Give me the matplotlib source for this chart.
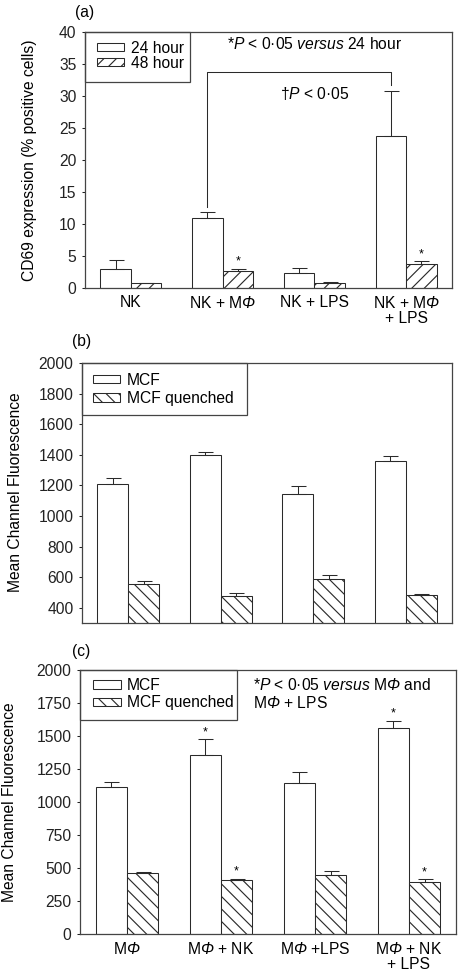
import matplotlib
matplotlib.use("Agg")
import matplotlib.pyplot as plt
from matplotlib.patches import Rectangle
import numpy as np

plt.rcParams["font.family"] = ["Liberation Sans", "DejaVu Sans"]
plt.rcParams["mathtext.fontset"] = "custom"
plt.rcParams["mathtext.rm"] = "Liberation Sans"
plt.rcParams["mathtext.it"] = "Liberation Sans:italic"
plt.rcParams["mathtext.sf"] = "Liberation Sans:italic"
plt.rcParams["hatch.linewidth"] = 0.55

PHI = r"M$\mathsf{\Phi}$"

# panel (a): CD69 expression
groups_a = ["NK", "NK + " + PHI, "NK + LPS", "NK + " + PHI + "\n+ LPS"]
a_24h = [2.9, 10.9, 2.4, 23.7]
a_24h_err = [1.4, 1.0, 0.7, 7.1]
a_48h = [0.8, 2.6, 0.8, 3.7]
a_48h_err = [0.05, 0.4, 0.15, 0.45]
a_48h_star = [False, True, False, True]

# panel (b): mean channel fluorescence
b_mcf = [1210, 1397, 1143, 1360]
b_mcf_err = [36, 24, 50, 35]
b_quenched = [557, 474, 590, 485]
b_quenched_err = [16, 24, 26, 7]

# panel (c): mean channel fluorescence
groups_c = [PHI, PHI + " + NK", PHI + " +LPS", PHI + " + NK\n+ LPS"]
c_mcf = [1114, 1356, 1141, 1558]
c_mcf_err = [35, 119, 86, 58]
c_mcf_star = [False, True, False, True]
c_quenched = [460, 412, 444, 396]
c_quenched_err = [12, 7, 31, 18]
c_quenched_star = [False, True, False, True]

FS = 7.5
EDGE = "#2a2a2a"
W = 1 / 3
DPI = 150


def style_axes(ax):
    for sp in ax.spines.values():
        sp.set_linewidth(0.6)
        sp.set_color("#444444")
    ax.tick_params(axis="y", direction="out", length=1.6, width=0.5,
                   pad=2.5, labelsize=FS, colors="#222222")
    ax.tick_params(axis="x", length=0, pad=3.5, labelsize=FS)
    ax.set_xlim(-0.5, 3.5)


def draw_pair(ax, v1, e1, v2, e2, hatch2):
    x = np.arange(len(v1))
    zeros = np.zeros(len(v1))
    b1 = ax.bar(x - W / 2, v1, W, color="white", edgecolor=EDGE, linewidth=0.5)
    b2 = ax.bar(x + W / 2, v2, W, color="white", edgecolor=EDGE, linewidth=0.5,
                hatch=hatch2)
    ax.errorbar(x - W / 2, v1, yerr=[zeros, e1], fmt="none", ecolor=EDGE,
                elinewidth=0.5, capsize=3.6, capthick=0.5)
    ax.errorbar(x + W / 2, v2, yerr=[zeros, e2], fmt="none", ecolor=EDGE,
                elinewidth=0.5, capsize=3.6, capthick=0.5)
    return x, b1, b2


def stars(ax, xs, vals, errs, flags):
    for xi, v, e, f in zip(xs, vals, errs, flags):
        if f:
            ax.annotate("*", (xi, v + e), xytext=(0, 3.5),
                        textcoords="offset points", ha="center", va="center",
                        fontsize=6)


def legend_box(ax, handles, labels, x0, ytop, box_w, box_h, spacing):
    ax.add_patch(Rectangle((0, 1 - box_h), box_w, box_h, transform=ax.transAxes,
                           fill=False, edgecolor="#444444", linewidth=0.6,
                           zorder=5, clip_on=False))
    ax.legend(handles, labels, loc="upper left", bbox_to_anchor=(x0, ytop),
              frameon=False, borderpad=0, borderaxespad=0, fontsize=FS,
              handlelength=1.75, handleheight=0.45, handletextpad=0.4,
              labelspacing=spacing)


fig = plt.figure(figsize=(458 / DPI, 976 / DPI), dpi=DPI)

# (a)
ax1 = fig.add_axes([0.1856, 0.7049, 0.8013, 0.2623])
x, b1, b2 = draw_pair(ax1, a_24h, a_24h_err, a_48h, a_48h_err, "////")
stars(ax1, x + W / 2, a_48h, a_48h_err, a_48h_star)
ax1.set_ylim(0, 40)
ax1.set_yticks(range(0, 41, 5))
ax1.set_xticks(x)
ax1.set_xticklabels(groups_a, linespacing=1.0)
style_axes(ax1)
ax1.plot([1 - W / 2, 1 - W / 2, 3 - W / 2, 3 - W / 2], [12.6, 33.75, 33.75, 31.7],
         color=EDGE, linewidth=0.5)
ax1.text(2.0, 30.4, r"†$\mathit{P}$ < 0·05", ha="center", va="center", fontsize=FS)
ax1.text(2.0, 38.2, r"*$\mathit{P}$ < 0·05 $\mathit{versus}$ 24 hour",
         ha="center", va="center", fontsize=FS)
legend_box(ax1, [b1, b2], ["24 hour", "48 hour"], 0.033, 0.966, 0.286, 0.195, 0.0)
fig.text(0.164, 0.9867, "(a)", ha="left", va="center", fontsize=FS)
fig.text(0.0655, 0.836, "CD69 expression (% positive cells)", rotation=90,
         ha="center", va="center", fontsize=FS)

# (b)
ax2 = fig.add_axes([0.179, 0.3617, 0.8079, 0.2664])
x, b1, b2 = draw_pair(ax2, b_mcf, b_mcf_err, b_quenched, b_quenched_err, "\\\\\\\\")
ax2.set_ylim(300, 2000)
ax2.set_yticks(range(400, 2001, 200))
ax2.set_xticks([])
style_axes(ax2)
legend_box(ax2, [b1, b2], ["MCF", "MCF quenched"], 0.03, 0.962, 0.446, 0.2, 0.2)
fig.text(0.157, 0.6496, "(b)", ha="left", va="center", fontsize=FS)
fig.text(0.0328, 0.496, "Mean Channel Fluorescence", rotation=90,
         ha="center", va="center", fontsize=FS)

# (c)
ax3 = fig.add_axes([0.1747, 0.0430, 0.8209, 0.2705])
x, b1, b2 = draw_pair(ax3, c_mcf, c_mcf_err, c_quenched, c_quenched_err, "\\\\\\\\")
stars(ax3, x - W / 2, c_mcf, c_mcf_err, c_mcf_star)
stars(ax3, x + W / 2, c_quenched, c_quenched_err, c_quenched_star)
ax3.set_ylim(0, 2000)
ax3.set_yticks(range(0, 2001, 250))
ax3.set_xticks(x)
ax3.set_xticklabels(groups_c, linespacing=1.0)
style_axes(ax3)
ax3.text(1.34, 1886, r"*$\mathit{P}$ < 0·05 $\mathit{versus}$ " + PHI + " and",
         ha="left", va="center", fontsize=FS)
ax3.text(1.34, 1747, PHI + " + LPS", ha="left", va="center", fontsize=FS)
legend_box(ax3, [b1, b2], ["MCF", "MCF quenched"], 0.035, 0.97, 0.418, 0.19, 0.15)
fig.text(0.157, 0.332, "(c)", ha="left", va="center", fontsize=FS)
fig.text(0.0218, 0.178, "Mean Channel Fluorescence", rotation=90,
         ha="center", va="center", fontsize=FS)

fig.savefig("out.png", dpi=DPI)
